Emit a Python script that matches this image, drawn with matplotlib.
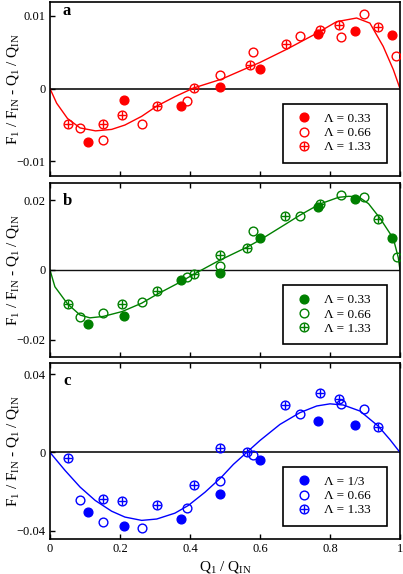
import matplotlib
matplotlib.use('Agg')
import matplotlib.pyplot as plt
from matplotlib.legend_handler import HandlerTuple

plt.rcParams['font.family'] = ['Liberation Serif', 'DejaVu Serif']
plt.rcParams['mathtext.fontset'] = 'custom'
plt.rcParams['mathtext.rm'] = 'Liberation Serif'
plt.rcParams['mathtext.it'] = 'Liberation Serif:italic'
plt.rcParams['mathtext.bf'] = 'Liberation Serif:bold'

# ---------------- data ----------------
# panel a
a_033_x = [0.108, 0.211, 0.374, 0.487, 0.600, 0.767, 0.871, 0.977]
a_033_y = [-0.0073, -0.0015, -0.0024, 0.0002, 0.0027, 0.0075, 0.0079, 0.0074]
a_066_x = [0.086, 0.150, 0.262, 0.392, 0.487, 0.581, 0.714, 0.830, 0.897, 0.989]
a_066_y = [-0.0054, -0.0070, -0.0049, -0.0017, 0.0019, 0.0050, 0.0072, 0.0071, 0.0103, 0.0045]
a_133_x = [0.050, 0.152, 0.207, 0.305, 0.411, 0.571, 0.674, 0.770, 0.827, 0.938]
a_133_y = [-0.0048, -0.0048, -0.0036, -0.0024, 0.0001, 0.0032, 0.0061, 0.0080, 0.0087, 0.0084]
a_fit_x = [0, 0.019, 0.05, 0.086, 0.13, 0.176, 0.214, 0.262, 0.305, 0.357, 0.411, 0.49,
           0.571, 0.6, 0.676, 0.762, 0.819, 0.876, 0.914, 0.952, 0.981, 1.0]
a_fit_y = [0, -0.0020, -0.0041, -0.0054, -0.0058, -0.0056, -0.0050, -0.0038, -0.0024, -0.0011,
           0.0001, 0.0013, 0.0030, 0.0036, 0.0054, 0.0076, 0.0092, 0.0097, 0.0090, 0.0058,
           0.0026, 0.0]

# panel b
b_033_x = [0.108, 0.211, 0.374, 0.487, 0.600, 0.767, 0.871, 0.978]
b_033_y = [-0.0154, -0.0131, -0.0030, -0.0008, 0.0093, 0.0180, 0.0202, 0.0093]
b_066_x = [0.086, 0.150, 0.262, 0.392, 0.487, 0.581, 0.714, 0.830, 0.897, 0.990]
b_066_y = [-0.0135, -0.0124, -0.0093, -0.0021, 0.0011, 0.0111, 0.0155, 0.0215, 0.0208, 0.0036]
b_133_x = [0.050, 0.207, 0.305, 0.411, 0.487, 0.562, 0.671, 0.770, 0.938]
b_133_y = [-0.0097, -0.0097, -0.0059, -0.0012, 0.0043, 0.0062, 0.0154, 0.0189, 0.0145]
b_fit_x = [0, 0.014, 0.05, 0.086, 0.114, 0.152, 0.206, 0.262, 0.305, 0.375, 0.411, 0.481,
           0.562, 0.6, 0.671, 0.714, 0.771, 0.824, 0.853, 0.881, 0.910, 0.943, 0.981, 0.995, 1.0]
b_fit_y = [0, -0.0048, -0.0097, -0.0129, -0.0137, -0.0133, -0.0119, -0.0095, -0.0070, -0.0033,
           -0.0012, 0.0026, 0.0065, 0.0086, 0.0130, 0.0157, 0.0189, 0.0208, 0.0211, 0.0210,
           0.0190, 0.0148, 0.0090, 0.0036, 0.0]

# panel c
c_033_x = [0.108, 0.211, 0.374, 0.487, 0.600, 0.767, 0.871]
c_033_y = [-0.0305, -0.0378, -0.0339, -0.0214, -0.0040, 0.0160, 0.0140]
c_066_x = [0.086, 0.150, 0.262, 0.392, 0.487, 0.581, 0.714, 0.830, 0.897]
c_066_y = [-0.0243, -0.0355, -0.0386, -0.0286, -0.0146, -0.0013, 0.0198, 0.0246, 0.0221]
c_133_x = [0.050, 0.152, 0.207, 0.305, 0.411, 0.487, 0.562, 0.671, 0.770, 0.827, 0.938]
c_133_y = [-0.0027, -0.0240, -0.0247, -0.0268, -0.0168, 0.0021, 0.0004, 0.0243, 0.0303, 0.0274, 0.0131]
c_fit_x = [0, 0.043, 0.086, 0.129, 0.176, 0.214, 0.262, 0.305, 0.357, 0.395, 0.443, 0.490,
           0.524, 0.562, 0.6, 0.657, 0.714, 0.762, 0.8, 0.838, 0.886, 0.938, 0.971, 1.0]
c_fit_y = [0, -0.0092, -0.0177, -0.0245, -0.0300, -0.0330, -0.0347, -0.0340, -0.0310, -0.0271,
           -0.0203, -0.0126, -0.0061, 0.0, 0.0061, 0.0143, 0.0203, 0.0237, 0.0248, 0.0242,
           0.0211, 0.0134, 0.0066, 0.0]

panel_letters = ['a', 'b', 'c']
legend_labels = [['Λ = 0.33', 'Λ = 0.66', 'Λ = 1.33'],
                 ['Λ = 0.33', 'Λ = 0.66', 'Λ = 1.33'],
                 ['Λ = 1/3', 'Λ = 0.66', 'Λ = 1.33']]
y_ticks = [[-0.01, 0, 0.01], [-0.02, 0, 0.02], [-0.04, 0, 0.04]]
y_ticklabels = [['−0.01', '0', '0.01'], ['−0.02', '0', '0.02'], ['−0.04', '0', '0.04']]
x_ticks = [0, 0.2, 0.4, 0.6, 0.8, 1.0]
x_ticklabels = ['0', '0.2', '0.4', '0.6', '0.8', '1']

# ---------------- figure ----------------
W, H = 403, 574
fig = plt.figure(figsize=(W / 100, H / 100), dpi=100)

# axes boxes in pixels: (left, top, right, bottom)
boxes = [(50, 2, 400, 176), (50, 182.7, 400, 357.3), (50, 362.7, 400, 539)]
ylims = [(-0.012, 0.0119), (-0.025, 0.025), (-0.0442, 0.0458)]
colors = ['#ff0000', '#008000', '#0000ff']
zero_colors = ['#333333', '#111111', '#333333']
zero_lw = [1.4, 1.0, 1.4]
label_y = [0.925, 0.872, 0.873]

panels = [
    (a_033_x, a_033_y, a_066_x, a_066_y, a_133_x, a_133_y, a_fit_x, a_fit_y),
    (b_033_x, b_033_y, b_066_x, b_066_y, b_133_x, b_133_y, b_fit_x, b_fit_y),
    (c_033_x, c_033_y, c_066_x, c_066_y, c_133_x, c_133_y, c_fit_x, c_fit_y),
]

ylabel = r'F$_1$ / F$_{\mathrm{IN}}$ - Q$_1$ / Q$_{\mathrm{IN}}$'
ms = 6.3

for i, (box, pdata) in enumerate(zip(boxes, panels)):
    l, t, r, b = box
    axw, axh = r - l, b - t
    ax = fig.add_axes([l / W, (H - b) / H, axw / W, axh / H])
    col = colors[i]
    x1, y1, x2, y2, x3, y3, fx, fy = pdata

    ax.axhline(0, color=zero_colors[i], lw=zero_lw[i], zorder=1)
    ax.plot(fx, fy, color=col, lw=1.0, zorder=2)
    h1, = ax.plot(x1, y1, 'o', ms=ms, color=col, mec=col, mew=1, ls='none', zorder=3)
    h2, = ax.plot(x2, y2, 'o', ms=ms, mfc='none', mec=col, mew=1, ls='none', zorder=3)
    h3a, = ax.plot(x3, y3, 'o', ms=ms, mfc='none', mec=col, mew=1, ls='none', zorder=4)
    h3b, = ax.plot(x3, y3, '+', ms=ms, color=col, mew=1, ls='none', zorder=4)

    ax.set_xlim(0, 1)
    ax.set_ylim(*ylims[i])
    ax.set_xticks(x_ticks)
    ax.set_yticks(y_ticks[i])
    ax.set_yticklabels(y_ticklabels[i])
    if i == 2:
        ax.set_xticklabels(x_ticklabels)
        ax.set_xlabel(r'Q$_1$ / Q$_{\mathrm{IN}}$', fontsize=11, labelpad=3)
    else:
        ax.set_xticklabels([])
    ax.tick_params(direction='in', length=3.8, width=1, labelsize=9, pad=3,
                   top=(i > 0), right=False)
    for s in ax.spines.values():
        s.set_linewidth(1.2)
    ax.set_ylabel(ylabel, fontsize=11)
    ax.yaxis.set_label_coords(-0.083, 0.5)

    ax.text(0.037, label_y[i], panel_letters[i], transform=ax.transAxes,
            fontsize=12, fontweight='bold', va='baseline', ha='left')

    leg = ax.legend([h1, h2, (h3a, h3b)], legend_labels[i],
                    handler_map={tuple: HandlerTuple(ndivide=1)},
                    loc='lower left',
                    bbox_to_anchor=((282.7 - l) / axw, 13.3 / axh,
                                    104 / axw, 57 / axh),
                    mode='expand', fontsize=9.5, numpoints=1,
                    frameon=True, fancybox=False, framealpha=1,
                    edgecolor='black', borderpad=0.7, handlelength=1.9,
                    handletextpad=0.55, labelspacing=0.15, borderaxespad=0)
    leg.get_frame().set_linewidth(1.2)

fig.savefig('out.png', dpi=100)
